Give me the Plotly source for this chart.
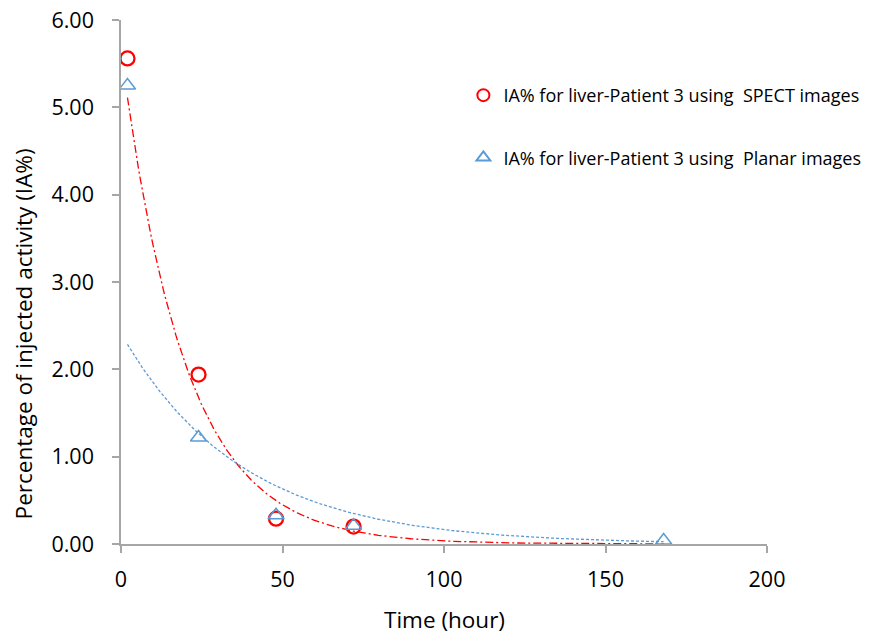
import numpy as np
import plotly.graph_objects as go

# Measured liver uptake (IA%) over time for patient 3
spect_time = [2, 24, 48, 72]
spect_ia = [5.56, 1.94, 0.29, 0.20]

planar_time = [2, 24, 48, 72, 168]
planar_ia = [5.25, 1.22, 0.33, 0.21, 0.04]

x_ticks = [0, 50, 100, 150, 200]
y_ticks = [0, 1, 2, 3, 4, 5, 6]

RED = "#FF0000"
BLUE = "#5B9BD5"
FONT = "Open Sans, sans-serif"

W, H = 879, 639
M_L, M_R, M_T, M_B = 121, 112, 20, 95
PLOT_W = W - M_L - M_R
PLOT_H = H - M_T - M_B


def exp_fit(x, y):
    """Least-squares exponential trend y = a * exp(b x)."""
    b, ln_a = np.polyfit(np.asarray(x, float), np.log(np.asarray(y, float)), 1)
    return np.exp(ln_a), b


fig = go.Figure()

# exponential trend lines over the span of the planar measurements
xs = np.linspace(min(planar_time), max(planar_time), 300)
a_s, b_s = exp_fit(spect_time, spect_ia)
a_p, b_p = exp_fit(planar_time, planar_ia)

fig.add_trace(go.Scatter(
    x=xs, y=a_s * np.exp(b_s * xs), mode="lines",
    line=dict(color=RED, width=1.3, dash="8px,3px,2px,3px"),
    showlegend=False, hoverinfo="skip"))
fig.add_trace(go.Scatter(
    x=xs, y=a_p * np.exp(b_p * xs), mode="lines",
    line=dict(color=BLUE, width=1.3, dash="3px,2px"),
    showlegend=False, hoverinfo="skip"))

fig.add_trace(go.Scatter(
    x=spect_time, y=spect_ia, mode="markers",
    name="IA% for liver-Patient 3 using  SPECT images",
    marker=dict(symbol="circle-open", size=14, color=RED, line=dict(width=2.3, color=RED)),
    legend="legend"))
fig.add_trace(go.Scatter(
    x=planar_time, y=planar_ia, mode="markers",
    name="IA% for liver-Patient 3 using  Planar images",
    marker=dict(symbol="triangle-up-open", size=14, color=BLUE, line=dict(width=1.5, color=BLUE)),
    legend="legend2"))

axis_common = dict(
    showgrid=False, zeroline=False, showline=True, linecolor="#A6A6A6", linewidth=1.5,
    ticks="outside", tickcolor="#A6A6A6", ticklen=7, tickwidth=1.5,
    tickfont=dict(family=FONT, size=21.5, color="#000000"),
    automargin=False,
)

legend_common = dict(
    font=dict(family=FONT, size=18, color="#000000"),
    bgcolor="rgba(0,0,0,0)", xanchor="left", yanchor="middle",
    itemwidth=30, itemsizing="constant",
)

title_font = dict(family=FONT, size=22.5, color="#000000")

fig.update_layout(
    width=W, height=H,
    margin=dict(l=M_L, r=M_R, t=M_T, b=M_B),
    paper_bgcolor="white", plot_bgcolor="white",
    font=dict(family=FONT),
    xaxis=dict(range=[0, 200], tickvals=x_ticks, ticktext=[str(v) for v in x_ticks],
               ticklabelstandoff=8, **axis_common),
    yaxis=dict(range=[0, 6], tickvals=y_ticks, ticktext=[f"{v:.2f}" for v in y_ticks],
               ticklabelstandoff=14, **axis_common),
    legend=dict(x=0.53, y=0.856, **legend_common),
    legend2=dict(x=0.53, y=0.737, **legend_common),
    annotations=[
        dict(text="Time (hour)", xref="paper", yref="paper",
             x=0.5, y=-75 / PLOT_H, xanchor="center", yanchor="middle",
             showarrow=False, font=title_font),
        dict(text="Percentage of injected activity (IA%)", xref="paper", yref="paper",
             x=-(M_L - 23) / PLOT_W, y=0.40, xanchor="center", yanchor="middle",
             textangle=-90, showarrow=False, font=title_font),
    ],
)

fig.write_html("out.html")
